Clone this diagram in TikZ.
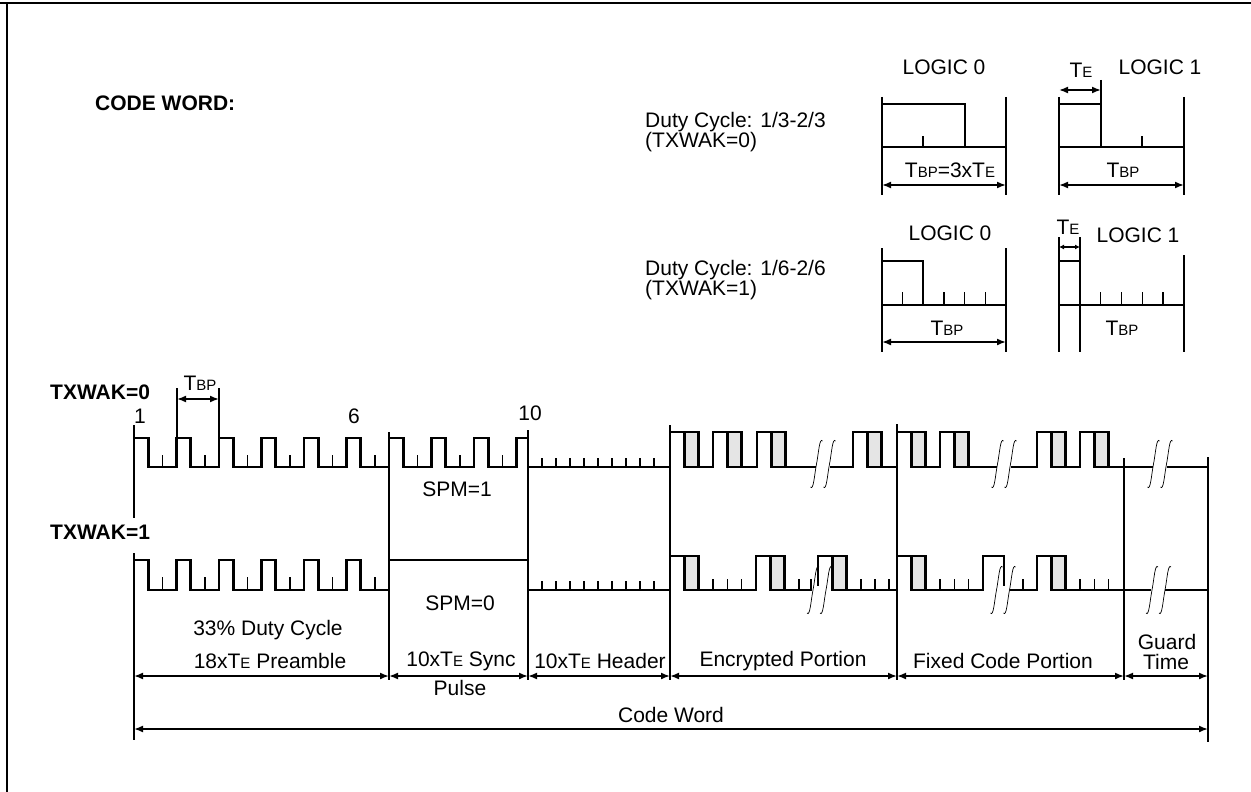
\documentclass[tikz,border=0pt]{standalone}
\usepackage{fontspec}
\setmainfont{Liberation Sans}
\usetikzlibrary{arrows.meta}
\newcommand\smc[1]{{\fontsize{15}{15}\selectfont #1}}
\newcommand\TEx{T\smc{E}}
\newcommand\TBPx{T\smc{BP}}
\newcommand\brkmark[2]{%
  \fill[white] ({#1-1},{#2-4}) rectangle ({#1+13},{#2+4});
  \draw[brk] ({#1-6},{#2+23}) .. controls ({#1-3},{#2+27}) and ({#1-2},{#2+10}) .. ({#1},{#2}) .. controls ({#1+2},{#2-10}) and ({#1+3},{#2-27}) .. ({#1+6},{#2-23});
  \draw[brk] ({#1+7},{#2+23}) .. controls ({#1+10},{#2+27}) and ({#1+11},{#2+10}) .. ({#1+13},{#2}) .. controls ({#1+15},{#2-10}) and ({#1+16},{#2-27}) .. ({#1+19},{#2-23});
}
\begin{document}
\begin{tikzpicture}[x=1pt,y=-1pt,
  font=\fontsize{21}{24}\selectfont,
  every node/.style={inner sep=0pt},
  bold/.style={font=\fontsize{21}{24}\selectfont\bfseries},
  sig/.style={line width=2.8pt,line join=miter},
  bnd/.style={line width=1.9pt},
  tk/.style={line width=1.4pt},
  brk/.style={line width=0.7pt},
  dim/.style={line width=1.7pt,{Latex[length=9pt,width=7pt]}-{Latex[length=9pt,width=7pt]}},
  dimsm/.style={line width=1.4pt,{Latex[length=5pt,width=5pt]}-{Latex[length=5pt,width=5pt]}},
  shd/.style={fill=black!10,draw=black,line width=2.8pt}]
\useasboundingbox (0,0) rectangle (1251,792);
% frame
\draw[line width=2.5pt] (0,3) -- (1251,3);
\draw[line width=2pt] (7,3) -- (7,792);

\node[anchor=west,bold] (cw) at (95,103) {CODE WORD:};

% ---------- Duty cycle 1/3-2/3 ----------
\node[anchor=west] (dA1) at (645,122) {Duty Cycle: 1/3-2/3};
\node[anchor=west] (dA2) at (645,142) {(TXWAK=0)};
\node (l0a) at (944,67) {LOGIC 0};
\draw[bnd] (882,97) -- (882,195);
\draw[bnd] (1006,97) -- (1006,195);
\draw[tk] (882,147) -- (965,147);
\draw[tk] (923,147) -- (923,136);
\draw[sig] (882,104) -- (965,104) -- (965,147) -- (1006,147);
\draw[dim] (882,185) -- (1006,185);
\node (tbpa) at (950,170) {\TBPx=3x\TEx};

\node (tea) at (1081,70) {\TEx};
\node (l1a) at (1160,67) {LOGIC 1};
\draw[bnd] (1059,97) -- (1059,195);
\draw[bnd] (1184,97) -- (1184,195);
\draw[tk] (1059,147) -- (1101,147);
\draw[tk] (1142,147) -- (1142,136);
\draw[sig] (1059,104) -- (1101,104) -- (1101,147) -- (1184,147);
\draw[bnd] (1101,80) -- (1101,104);
\draw[dim] (1059,90) -- (1101,90);
\draw[dim] (1059,185) -- (1184,185);
\node (tbpa2) at (1123,170) {\TBPx};

% ---------- Duty cycle 1/6-2/6 ----------
\node[anchor=west] (dB1) at (645,270) {Duty Cycle: 1/6-2/6};
\node[anchor=west] (dB2) at (645,290) {(TXWAK=1)};
\node (l0b) at (950,233) {LOGIC 0};
\draw[bnd] (882,248) -- (882,352);
\draw[bnd] (1006,248) -- (1006,352);
\draw[tk] (882,305) -- (923,305);
\foreach \k in {1,...,5} \draw[tk] ({882+20.67*\k},305) -- ++(0,-13);
\draw[sig] (882,261) -- (923,261) -- (923,305) -- (1006,305);
\draw[dim] (882,342) -- (1006,342);
\node (tbpb) at (947,328) {\TBPx};

\node (teb) at (1068,227) {\TEx};
\node (l1b) at (1138,235) {LOGIC 1};
\draw[bnd] (1059,237) -- (1059,352);
\draw[bnd] (1080,237) -- (1080,352);
\draw[bnd] (1184,255) -- (1184,352);
\draw[tk] (1059,305) -- (1080,305);
\foreach \k in {2,...,5} \draw[tk] ({1059+20.83*\k},305) -- ++(0,-13);
\draw[sig] (1059,261) -- (1080,261) -- (1080,305) -- (1184,305);
\draw[dimsm] (1059,247) -- (1080,247);
\node (tbpb2) at (1122,328) {\TBPx};

% ---------- main timing ----------
\node[anchor=west,bold] (tx0) at (50,392) {TXWAK=0};
\node[anchor=west,bold] (tx1) at (50,532) {TXWAK=1};

\node (tbpm) at (200,383) {\TBPx};
\draw[bnd] (177,388) -- (177,438);
\draw[bnd] (219,388) -- (219,438);
\draw[dim] (177,399) -- (219,399);
\node (n1) at (140,416) {1};
\node (n6) at (354,416) {6};
\node (n10) at (530,413) {10};

% boundaries
\draw[bnd] (134,425) -- (134,518);
\draw[bnd] (134,553) -- (134,740);
\draw[bnd] (389,432) -- (389,680);
\draw[bnd] (528,430) -- (528,680);
\draw[bnd] (670,425) -- (670,680);
\draw[bnd] (897,424) -- (897,680);
\draw[bnd] (1124,458) -- (1124,680);
\draw[bnd] (1208,457) -- (1208,742);

% shaded boxes row 1
\foreach \s in {670,713,757,853,897,940,1037,1080}
  \filldraw[shd] ({\s+14.33},432) rectangle ({\s+28.67},467);
% row 1 signal
\draw[sig] (134,467) -- (134,438)
  \foreach \j in {0,...,8}{ -- ({134+42.5*\j+14.17},438) -- ({134+42.5*\j+14.17},467) -- ({134+42.5*\j+42.5},467) -- ({134+42.5*\j+42.5},438) }
  -- (528,438) -- (528,467) -- (670,467)
  \foreach \s/\n in {670/713,713/757,757/853,853/897,897/940,940/1037,1037/1080}{ -- (\s,432) -- ({\s+28.67},432) -- ({\s+28.67},467) -- (\n,467) }
  -- (1080,432) -- (1108.67,432) -- (1108.67,467) -- (1208,467);
\foreach \j in {0,...,8} \draw[tk] ({134+42.5*\j+28.33},467) -- ++(0,-12);
\foreach \k in {1,...,9} \draw[tk] ({528+14*\k},467) -- ++(0,-9);
\brkmark{816.5}{464}
\brkmark{997.5}{464}
\brkmark{1153.5}{464}
\node (spm1) at (457,489) {SPM=1};

% shaded boxes row 2
\foreach \s in {670,756,818,897,1037}
  \filldraw[shd] ({\s+14.33},556) rectangle ({\s+28.67},590);
% row 2 signal
\draw[sig] (134,590) -- (134,560)
  \foreach \j in {0,...,5}{ -- ({134+42.5*\j+14.17},560) -- ({134+42.5*\j+14.17},590) -- ({134+42.5*\j+42.5},590) -- ({134+42.5*\j+42.5},560) }
  -- (528,560) -- (528,590) -- (670,590)
  -- (670,556) -- (698.67,556) -- (698.67,590) -- (756,590)
  -- (756,556) -- (784.67,556) -- (784.67,590) -- (818,590)
  -- (818,556) -- (846.67,556) -- (846.67,590) -- (897,590)
  -- (897,556) -- (925.67,556) -- (925.67,590) -- (983,590)
  -- (983,556) -- (1004,556) -- (1004,590) -- (1037,590)
  -- (1037,556) -- (1065.67,556) -- (1065.67,590) -- (1208,590);
\foreach \j in {0,...,5} \draw[tk] ({134+42.5*\j+28.33},590) -- ++(0,-13);
\foreach \k in {1,...,9} \draw[tk] ({528+14*\k},590) -- ++(0,-9);
\foreach \x in {713,727.3,741.7,799,811,861,875,889,940,954.3,968.7,1023,1080,1094.3,1108.7}
  \draw[tk] (\x,590) -- ++(0,-11);
\brkmark{813}{590}
\brkmark{996.5}{590}
\brkmark{1152}{590}
\node (spm0) at (460,603) {SPM=0};

% labels & dimension lines
\node (dc33) at (268,630) {33\% Duty Cycle};
\node (pre) at (270,661) {18x\TEx{} Preamble};
\node (syn) at (461,661) {10x\TEx{} Sync};
\node (pul) at (460,688) {Pulse};
\node (hdr) at (600,661) {10x\TEx{} Header};
\node (enc) at (783,661) {Encrypted Portion};
\node (fix) at (1003,661) {Fixed Code Portion};
\node (gd1) at (1167,642) {Guard};
\node (gd2) at (1166,662) {Time};
\draw[dim] (134,676) -- (389,676);
\draw[dim] (389,676) -- (528,676);
\draw[dim] (528,676) -- (670,676);
\draw[dim] (670,676) -- (897,676);
\draw[dim] (897,676) -- (1124,676);
\draw[dim] (1124,676) -- (1208,676);
\node (cwd) at (671,715) {Code Word};
\draw[dim] (134,729) -- (1208,729);
\end{tikzpicture}
\end{document}
